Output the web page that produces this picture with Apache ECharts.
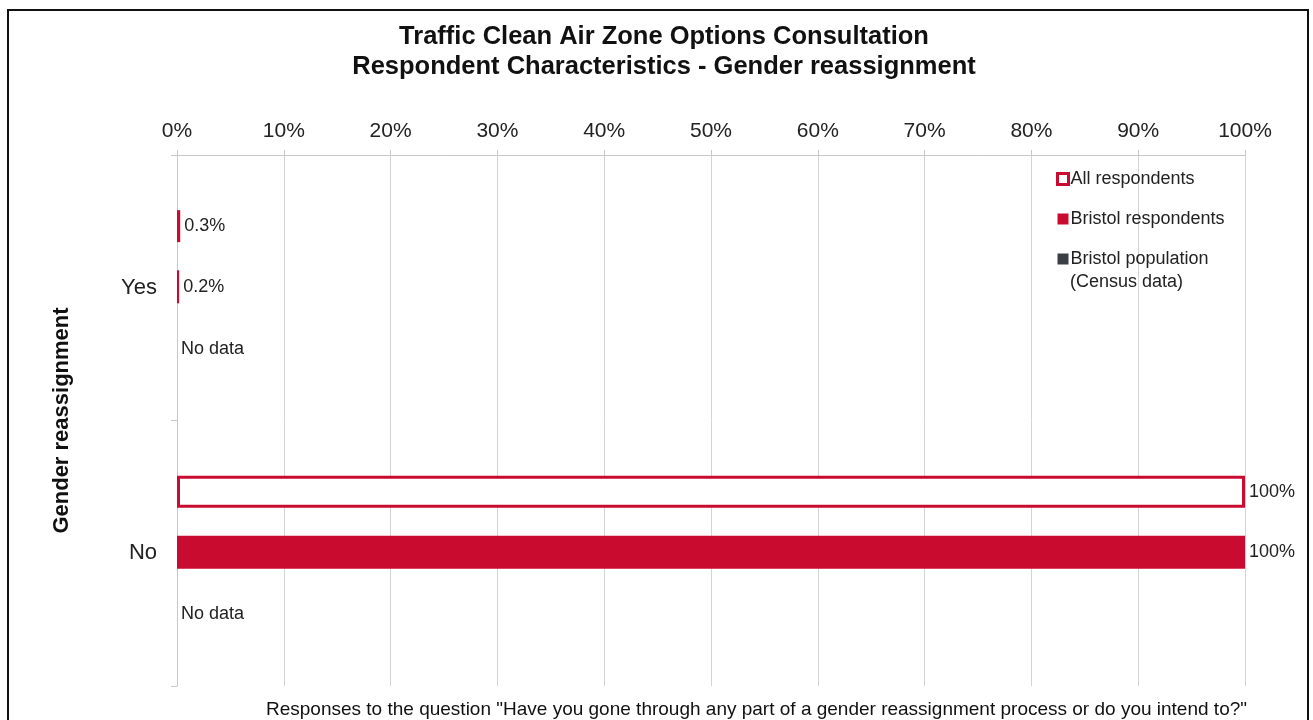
<!DOCTYPE html>
<html>
<head>
<meta charset="utf-8">
<script src="https://cdn.jsdelivr.net/npm/echarts@6/dist/echarts.min.js"></script>
<style>
  html, body { margin: 0; padding: 0; background: #fff; }
  #chart { width: 1313px; height: 720px; }
</style>
</head>
<body>
<div id="chart"></div>
<script>
// Response categories and percentages per group
const categories = ['Yes', 'No'];
const allRespondents = [0.3, 100];
const bristolRespondents = [0.2, 100];
const bristolPopulation = [null, null]; // census figures not available
const xTicks = [0, 10, 20, 30, 40, 50, 60, 70, 80, 90, 100];

const RED = '#c90b30';
const GREY = '#3b3f45';
const FONT = '"Liberation Sans", Arial, sans-serif';

const valueLabel = {
  show: true,
  position: 'right',
  distance: 4,
  fontFamily: FONT,
  fontSize: 18,
  color: '#222',
  formatter: p => p.value + '%'
};

// Missing values are drawn as zero-length bars carrying a "No data" note
const withNoData = arr => arr.map(v => v === null
  ? { value: 0, label: { formatter: 'No data' } }
  : v);

const POP_NAME = 'Bristol population (Census data)';

const chart = echarts.init(document.getElementById('chart'), null, { renderer: 'canvas' });

chart.setOption({
  animation: false,
  backgroundColor: '#fff',
  textStyle: { fontFamily: FONT },
  title: {
    text: 'Traffic Clean Air Zone Options Consultation\nRespondent Characteristics - Gender reassignment',
    left: 659,
    textAlign: 'center',
    top: 17,
    textStyle: { fontFamily: FONT, fontSize: 25.5, fontWeight: 'bold', color: '#111', lineHeight: 30 }
  },
  legend: {
    orient: 'vertical',
    left: 1051,
    top: 164,
    itemWidth: 11,
    itemHeight: 11,
    itemGap: 20,
    textStyle: { fontFamily: FONT, fontSize: 18, color: '#222', lineHeight: 20, padding: [0, 0, 0, -3] },
    formatter: name => name === POP_NAME ? 'Bristol population' : name,
    data: [
      { name: 'All respondents', icon: 'rect', itemStyle: { color: '#fff', borderColor: RED, borderWidth: 3 } },
      { name: 'Bristol respondents', icon: 'rect' },
      { name: POP_NAME, icon: 'rect' }
    ]
  },
  grid: { left: 177, right: 68, top: 155, bottom: 34 },
  xAxis: {
    type: 'value',
    position: 'top',
    min: xTicks[0],
    max: xTicks[xTicks.length - 1],
    interval: 10,
    axisLine: { show: true, lineStyle: { color: '#c8c8c8', width: 1 } },
    axisTick: { show: true, length: 5, lineStyle: { color: '#c8c8c8' } },
    axisLabel: { fontFamily: FONT, fontSize: 21, color: '#222', margin: 13, formatter: v => v + '%' },
    splitLine: { show: true, lineStyle: { color: '#d4d4d4', width: 1 } }
  },
  yAxis: {
    type: 'category',
    data: categories,
    inverse: true,
    name: 'Gender reassignment',
    nameLocation: 'middle',
    nameGap: 104,
    nameRotate: 90,
    nameTextStyle: { fontFamily: FONT, fontSize: 22, fontWeight: 'bold', color: '#111' },
    axisLine: { show: true, lineStyle: { color: '#c8c8c8', width: 1 } },
    axisTick: { show: true, length: 6, lineStyle: { color: '#c8c8c8' } },
    axisLabel: { fontFamily: FONT, fontSize: 22, color: '#222', margin: 20 }
  },
  series: [
    {
      name: 'All respondents',
      type: 'bar',
      data: withNoData(allRespondents),
      barWidth: 32,
      barGap: '88%',
      itemStyle: { color: '#fff', borderColor: RED, borderWidth: 3 },
      label: valueLabel
    },
    {
      name: 'Bristol respondents',
      type: 'bar',
      data: withNoData(bristolRespondents),
      barWidth: 33,
      itemStyle: { color: RED },
      label: valueLabel
    },
    {
      name: POP_NAME,
      type: 'bar',
      data: withNoData(bristolPopulation),
      barWidth: 33,
      itemStyle: { color: GREY },
      label: valueLabel
    }
  ],
  graphic: [
    {
      type: 'rect',
      shape: { x: 8, y: 10, width: 1300, height: 720 },
      style: { fill: 'none', stroke: '#111', lineWidth: 2 },
      silent: true,
      z: 100
    },
    {
      // second line of the census legend entry
      type: 'text',
      left: 1070,
      top: 273,
      style: { text: '(Census data)', fontFamily: FONT, fontSize: 18, fill: '#222' }
    },
    {
      type: 'text',
      left: 266,
      top: 700,
      style: {
        text: 'Responses to the question "Have you gone through any part of a gender reassignment process or do you intend to?"',
        fontFamily: FONT,
        fontSize: 19,
        fill: '#111'
      }
    }
  ]
});
</script>
</body>
</html>
